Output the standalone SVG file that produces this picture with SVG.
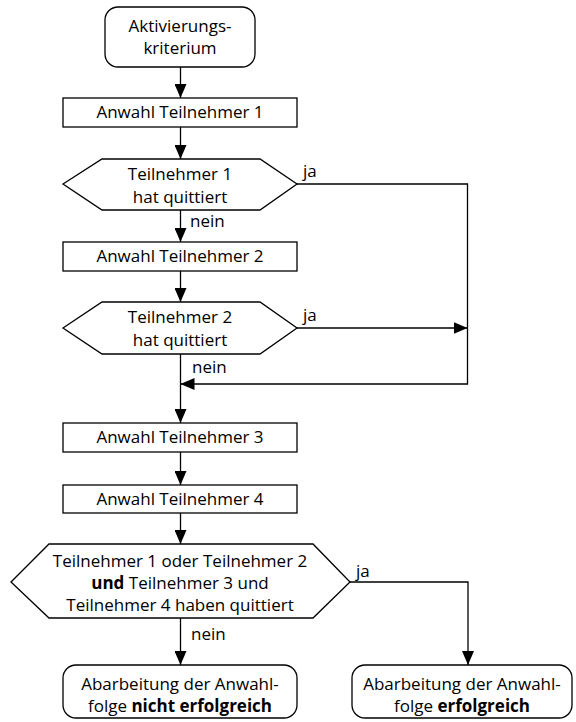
<svg xmlns="http://www.w3.org/2000/svg" width="576" height="722" viewBox="0 0 576 722">
<defs>
<marker id="ah" markerUnits="userSpaceOnUse" markerWidth="14" markerHeight="12" refX="14" refY="6" orient="auto">
<path d="M0,0 L14,6 L0,12 Z" fill="#000"/>
</marker>
<style>
.s{fill:#fff;stroke:#000;stroke-width:1.3}
.c{fill:none;stroke:#000;stroke-width:1.3}
text{font-family:"Open Sans","Noto Sans",sans-serif;font-size:17px;fill:#000}
.m{text-anchor:middle}
.b{font-weight:bold}
</style>
</defs>
<rect width="576" height="722" fill="#fff"/>
<g id="connectors">
<line class="c" x1="180.5" y1="67" x2="180.5" y2="98" marker-end="url(#ah)"/>
<line class="c" x1="180.5" y1="127" x2="180.5" y2="159" marker-end="url(#ah)"/>
<line class="c" x1="180.5" y1="210" x2="180.5" y2="242" marker-end="url(#ah)"/>
<line class="c" x1="180.5" y1="271" x2="180.5" y2="302" marker-end="url(#ah)"/>
<polyline class="c" points="297,184 467.5,184 467.5,384 180.5,384" marker-end="url(#ah)"/>
<line class="c" x1="297" y1="328" x2="467.5" y2="328" marker-end="url(#ah)"/>
<line class="c" x1="180.5" y1="354" x2="180.5" y2="423" marker-end="url(#ah)"/>
<line class="c" x1="180.5" y1="452" x2="180.5" y2="485" marker-end="url(#ah)"/>
<line class="c" x1="180.5" y1="513" x2="180.5" y2="544" marker-end="url(#ah)"/>
<line class="c" x1="180.5" y1="618" x2="180.5" y2="665" marker-end="url(#ah)"/>
<polyline class="c" points="350,582 468,582 468,665" marker-end="url(#ah)"/>
<text x="303" y="177">ja</text>
<text x="190" y="227">nein</text>
<text x="303" y="321">ja</text>
<text x="192" y="373">nein</text>
<text x="356" y="577">ja</text>
<text x="191" y="640">nein</text>
</g>
<g id="start">
<rect class="s" x="105" y="7" width="150" height="60" rx="13"/>
<text class="m" x="180" y="32">Aktivierungs-</text>
<text class="m" x="180" y="54">kriterium</text>
</g>
<g id="anwahl1">
<rect class="s" x="63" y="98" width="234" height="29"/>
<text class="m" x="180" y="118">Anwahl Teilnehmer 1</text>
</g>
<g id="quit1">
<polygon class="s" points="63,184 102,159 260,159 297,184 260,210 102,210"/>
<text class="m" x="180" y="180">Teilnehmer 1</text>
<text class="m" x="180" y="203">hat quittiert</text>
</g>
<g id="anwahl2">
<rect class="s" x="63" y="242" width="234" height="29"/>
<text class="m" x="180" y="262">Anwahl Teilnehmer 2</text>
</g>
<g id="quit2">
<polygon class="s" points="63,328 102,302 260,302 297,328 260,354 102,354"/>
<text class="m" x="180" y="323">Teilnehmer 2</text>
<text class="m" x="180" y="346">hat quittiert</text>
</g>
<g id="anwahl3">
<rect class="s" x="63" y="423" width="234" height="29"/>
<text class="m" x="180" y="443">Anwahl Teilnehmer 3</text>
</g>
<g id="anwahl4">
<rect class="s" x="63" y="485" width="234" height="28"/>
<text class="m" x="180" y="505">Anwahl Teilnehmer 4</text>
</g>
<g id="quitall">
<polygon class="s" points="11,582 49,544 313,544 350,582 313,618 49,618"/>
<text class="m" x="180" y="567">Teilnehmer 1 oder Teilnehmer 2</text>
<text class="m" x="180" y="589"><tspan class="b">und</tspan> Teilnehmer 3 und</text>
<text class="m" x="180" y="611">Teilnehmer 4 haben quittiert</text>
</g>
<g id="fail">
<rect class="s" x="63" y="665" width="234" height="53" rx="13"/>
<text class="m" x="180" y="690">Abarbeitung der Anwahl-</text>
<text class="m" x="180" y="712">folge <tspan class="b">nicht erfolgreich</tspan></text>
</g>
<g id="success">
<rect class="s" x="352" y="665" width="220" height="53" rx="13"/>
<text class="m" x="462" y="690">Abarbeitung der Anwahl-</text>
<text class="m" x="462" y="712">folge <tspan class="b">erfolgreich</tspan></text>
</g>
</svg>
